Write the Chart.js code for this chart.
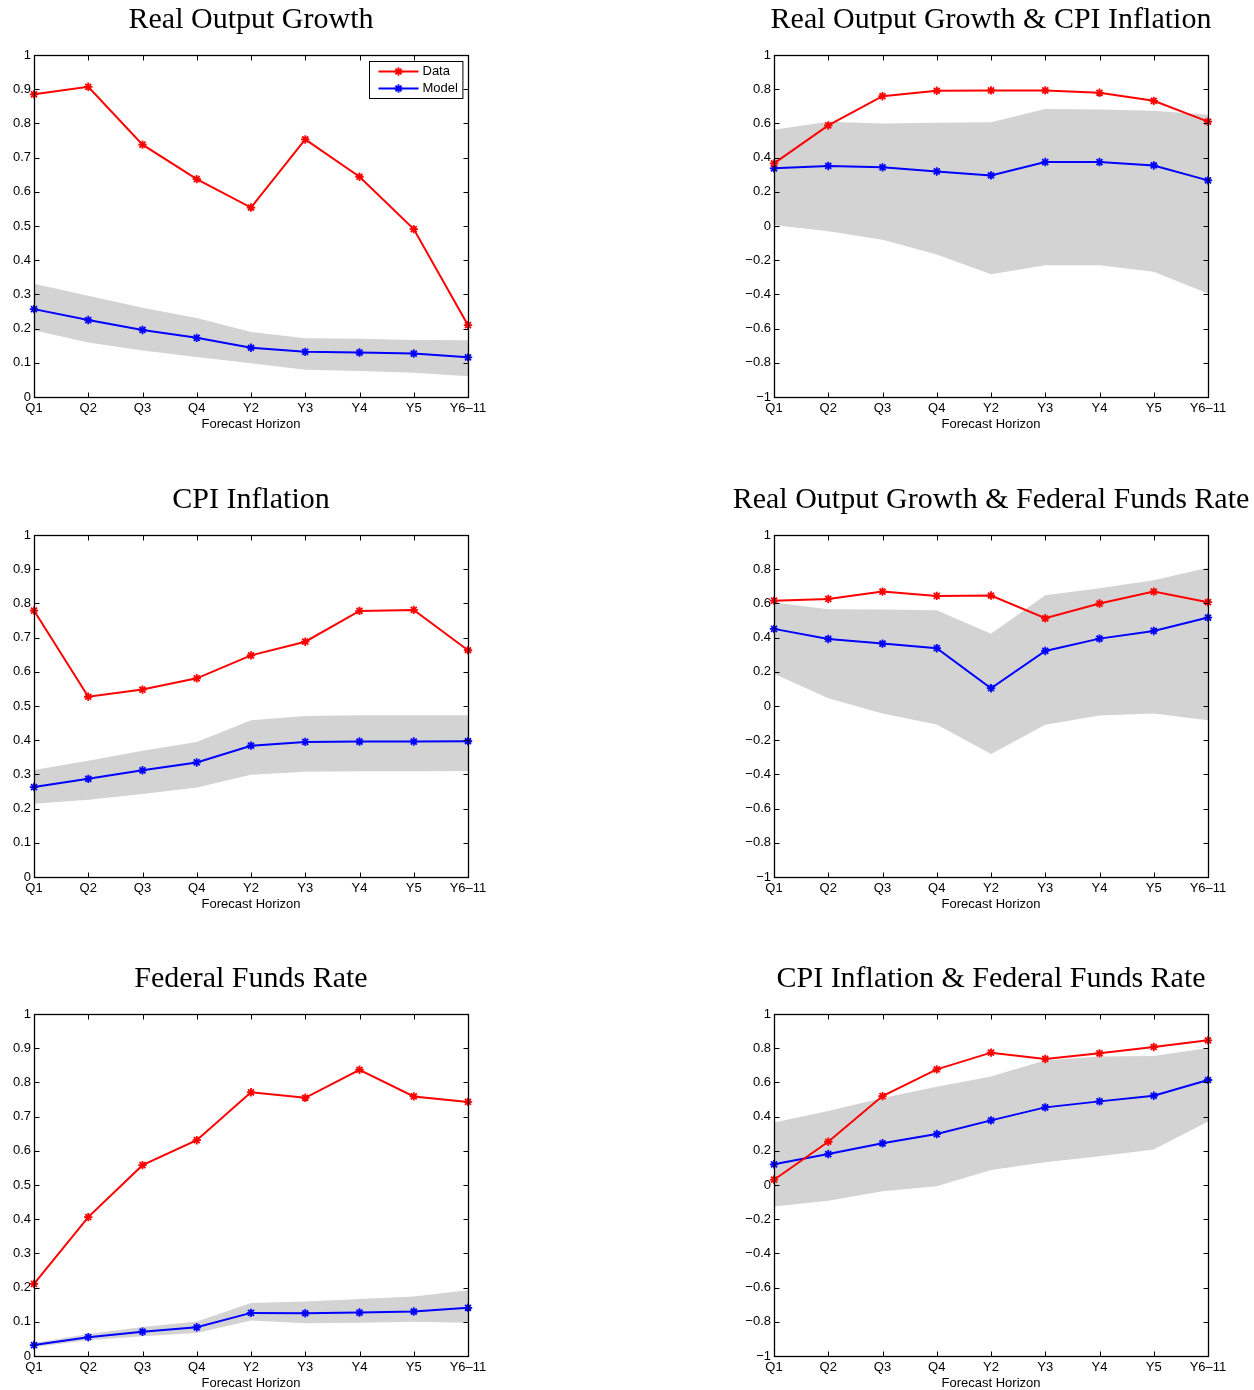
<!DOCTYPE html>
<html>
<head>
<meta charset="utf-8">
<script src="https://cdn.jsdelivr.net/npm/chart.js@4.4.1/dist/chart.umd.min.js"></script>
<style>
  html, body { margin: 0; padding: 0; background: #fff; }
  body { width: 1254px; height: 1390px; position: relative; overflow: hidden; }
  canvas { position: absolute; }
</style>
</head>
<body>
<canvas id="c1"></canvas>
<canvas id="c2"></canvas>
<canvas id="c3"></canvas>
<canvas id="c4"></canvas>
<canvas id="c5"></canvas>
<canvas id="c6"></canvas>
<script>
// forecast horizons on the x axis
const horizons = ['Q1', 'Q2', 'Q3', 'Q4', 'Y2', 'Y3', 'Y4', 'Y5', 'Y6\u201311'];

// Real Output Growth
const gdpData  = [0.885, 0.907, 0.738, 0.637, 0.554, 0.753, 0.644, 0.491, 0.210];
const gdpModel = [0.257, 0.225, 0.196, 0.173, 0.144, 0.132, 0.130, 0.127, 0.116];
const gdpHi    = [0.331, 0.296, 0.261, 0.231, 0.190, 0.172, 0.170, 0.167, 0.166];
const gdpLo    = [0.195, 0.159, 0.136, 0.117, 0.099, 0.080, 0.076, 0.071, 0.061];

// Real Output Growth & CPI Inflation
const gdpCpiData  = [0.366, 0.588, 0.759, 0.791, 0.793, 0.793, 0.779, 0.732, 0.610];
const gdpCpiModel = [0.337, 0.351, 0.343, 0.319, 0.296, 0.374, 0.374, 0.354, 0.267];
const gdpCpiHi    = [0.563, 0.610, 0.600, 0.604, 0.606, 0.684, 0.682, 0.674, 0.650];
const gdpCpiLo    = [0.006, -0.031, -0.080, -0.167, -0.282, -0.230, -0.230, -0.267, -0.395];

// CPI Inflation
const cpiData  = [0.779, 0.527, 0.548, 0.581, 0.648, 0.688, 0.778, 0.781, 0.663];
const cpiModel = [0.263, 0.287, 0.312, 0.335, 0.384, 0.395, 0.396, 0.396, 0.397];
const cpiHi    = [0.313, 0.340, 0.369, 0.395, 0.458, 0.471, 0.473, 0.473, 0.473];
const cpiLo    = [0.214, 0.226, 0.243, 0.262, 0.299, 0.308, 0.309, 0.309, 0.310];

// Real Output Growth & Federal Funds Rate
const gdpFfrData  = [0.616, 0.626, 0.669, 0.644, 0.646, 0.513, 0.599, 0.669, 0.607];
const gdpFfrModel = [0.451, 0.392, 0.365, 0.338, 0.104, 0.322, 0.394, 0.439, 0.517];
const gdpFfrHi    = [0.605, 0.566, 0.564, 0.560, 0.422, 0.648, 0.688, 0.735, 0.809];
const gdpFfrLo    = [0.188, 0.046, -0.044, -0.108, -0.281, -0.110, -0.055, -0.044, -0.083];

// Federal Funds Rate
const ffrData  = [0.211, 0.406, 0.558, 0.631, 0.771, 0.755, 0.837, 0.759, 0.743];
const ffrModel = [0.032, 0.055, 0.071, 0.084, 0.126, 0.125, 0.127, 0.130, 0.141];
const ffrHi    = [0.038, 0.064, 0.085, 0.101, 0.155, 0.159, 0.167, 0.174, 0.192];
const ffrLo    = [0.026, 0.046, 0.058, 0.067, 0.104, 0.096, 0.097, 0.100, 0.097];

// CPI Inflation & Federal Funds Rate
const cpiFfrData  = [0.031, 0.253, 0.520, 0.676, 0.774, 0.737, 0.770, 0.807, 0.846];
const cpiFfrModel = [0.121, 0.181, 0.244, 0.298, 0.378, 0.454, 0.489, 0.522, 0.614];
const cpiFfrHi    = [0.366, 0.433, 0.509, 0.575, 0.635, 0.729, 0.752, 0.754, 0.801];
const cpiFfrLo    = [-0.125, -0.092, -0.037, -0.008, 0.088, 0.133, 0.168, 0.207, 0.372];

const SANS = '"Liberation Sans", Arial, Helvetica, sans-serif';
const SERIF = '"Liberation Serif", "Times New Roman", serif';

Chart.defaults.font.family = SANS;
Chart.defaults.font.size = 13;
Chart.defaults.color = '#000';

// box round the plot with inward ticks on all four sides (matlab style)
const frameTicks = {
  id: 'frameTicks',
  afterDatasetsDraw(chart) {
    const { ctx, chartArea: a, scales: { x, y } } = chart;
    const len = 5;
    const L = Math.round(a.left) + 0.5, R = Math.round(a.right) + 0.5;
    const T = Math.round(a.top) + 0.5, B = Math.round(a.bottom) + 0.5;
    ctx.save();
    ctx.strokeStyle = '#000';
    ctx.lineWidth = 1;
    ctx.beginPath();
    x.ticks.forEach((t, i) => {
      const px = Math.round(x.getPixelForTick(i)) + 0.5;
      ctx.moveTo(px, B); ctx.lineTo(px, B - len);
      ctx.moveTo(px, T); ctx.lineTo(px, T + len);
    });
    y.ticks.forEach((t, i) => {
      const py = Math.round(y.getPixelForTick(i)) + 0.5;
      ctx.moveTo(L, py); ctx.lineTo(L + len, py);
      ctx.moveTo(R, py); ctx.lineTo(R - len, py);
    });
    ctx.stroke();
    ctx.lineWidth = 1.3;
    ctx.strokeRect(L, T, R - L, B - T);
    ctx.restore();
  }
};

// title centred over the plot box rather than the whole canvas
const plotTitle = {
  id: 'plotTitle',
  afterDraw(chart, args, opts) {
    const { ctx, chartArea: a } = chart;
    ctx.save();
    ctx.font = '30px ' + SERIF;
    ctx.fillStyle = '#000';
    ctx.textAlign = 'center';
    ctx.textBaseline = 'alphabetic';
    ctx.fillText(opts.text, (a.left + a.right) / 2, a.top - 27);
    ctx.restore();
  }
};

function drawAsterisk(ctx, cx, cy, r) {
  ctx.beginPath();
  for (let k = 0; k < 4; k++) {
    const ang = k * Math.PI / 4;
    const dx = Math.cos(ang) * r, dy = Math.sin(ang) * r;
    ctx.moveTo(cx - dx, cy - dy);
    ctx.lineTo(cx + dx, cy + dy);
  }
  ctx.stroke();
}

// legend box drawn inside the plot, top right
const innerLegend = {
  id: 'innerLegend',
  afterDraw(chart, args, opts) {
    if (!opts.show) return;
    const { ctx, chartArea: a } = chart;
    const items = chart.data.datasets.filter(d => d.inLegend);
    ctx.save();
    ctx.font = '13px ' + SANS;
    const textW = Math.max(...items.map(d => ctx.measureText(d.label).width));
    const padL = 9, lineW = 40, gap = 4, padR = 5, rowH = 17;
    const w = padL + lineW + gap + textW + padR;
    const h = items.length * rowH + 3;
    const x0 = Math.round(a.right - 6 - w) + 0.5;
    const y0 = Math.round(a.top + 6) + 0.5;
    ctx.fillStyle = '#fff';
    ctx.fillRect(x0, y0, w, h);
    ctx.strokeStyle = '#000';
    ctx.lineWidth = 1;
    ctx.strokeRect(x0, y0, w, h);
    items.forEach((d, i) => {
      const cy = y0 + 1.5 + rowH * (i + 0.5);
      ctx.strokeStyle = d.borderColor;
      ctx.lineWidth = 2;
      ctx.beginPath();
      ctx.moveTo(x0 + padL, cy);
      ctx.lineTo(x0 + padL + lineW, cy);
      ctx.stroke();
      ctx.lineWidth = 1.8;
      drawAsterisk(ctx, x0 + padL + lineW / 2, cy, 4.2);
      ctx.fillStyle = '#000';
      ctx.textBaseline = 'middle';
      ctx.textAlign = 'left';
      ctx.fillText(d.label, x0 + padL + lineW + gap, cy);
    });
    ctx.restore();
  }
};

function fmtTick(v) {
  const r = Math.round(v * 10) / 10;
  if (r === 0) return '0';
  if (Math.abs(r) === 1) return r < 0 ? '\u22121' : '1';
  return (r < 0 ? '\u2212' : '') + Math.abs(r).toFixed(1);
}

const panels = [
  { id: 'c1', left: 0,   top: 0,   col: 0, title: 'Real Output Growth', data: gdpData, model: gdpModel, hi: gdpHi, lo: gdpLo, min: 0, step: 0.1, legend: true },
  { id: 'c2', left: 730, top: 0,   col: 1, title: 'Real Output Growth & CPI Inflation', data: gdpCpiData, model: gdpCpiModel, hi: gdpCpiHi, lo: gdpCpiLo, min: -1, step: 0.2 },
  { id: 'c3', left: 0,   top: 480, col: 0, title: 'CPI Inflation', data: cpiData, model: cpiModel, hi: cpiHi, lo: cpiLo, min: 0, step: 0.1 },
  { id: 'c4', left: 730, top: 480, col: 1, title: 'Real Output Growth & Federal Funds Rate', data: gdpFfrData, model: gdpFfrModel, hi: gdpFfrHi, lo: gdpFfrLo, min: -1, step: 0.2 },
  { id: 'c5', left: 0,   top: 959, col: 0, title: 'Federal Funds Rate', data: ffrData, model: ffrModel, hi: ffrHi, lo: ffrLo, min: 0, step: 0.1 },
  { id: 'c6', left: 730, top: 959, col: 1, title: 'CPI Inflation & Federal Funds Rate', data: cpiFfrData, model: cpiFfrModel, hi: cpiFfrHi, lo: cpiFfrLo, min: -1, step: 0.2 }
];

panels.forEach(p => {
  const canvas = document.getElementById(p.id);
  const width = p.col === 0 ? 502 : 524;
  const side = p.col === 0 ? 34 : 44;
  canvas.width = width;
  canvas.height = 440;
  canvas.style.left = p.left + 'px';
  canvas.style.top = p.top + 'px';

  const lineSet = (label, values, color) => ({
    label,
    data: values,
    inLegend: true,
    borderColor: color,
    backgroundColor: color,
    borderWidth: 2,
    pointStyle: 'star',
    pointRadius: 4.2,
    pointBorderWidth: 1.8,
    pointBorderColor: color,
    tension: 0,
    fill: false,
    clip: false
  });

  new Chart(canvas.getContext('2d'), {
    type: 'line',
    data: {
      labels: horizons,
      datasets: [
        lineSet('Data', p.data, '#ff0000'),
        lineSet('Model', p.model, '#0000ff'),
        {
          label: 'upper',
          data: p.hi,
          borderWidth: 0,
          pointRadius: 0,
          backgroundColor: 'rgb(211,211,211)',
          fill: '+1',
          tension: 0
        },
        {
          label: 'lower',
          data: p.lo,
          borderWidth: 0,
          pointRadius: 0,
          fill: false,
          tension: 0
        }
      ]
    },
    options: {
      responsive: false,
      animation: false,
      events: [],
      layout: { padding: { left: 0, right: width - side - 434, top: 55, bottom: 0 } },
      plugins: {
        legend: { display: false },
        tooltip: { enabled: false },
        title: { display: false },
        plotTitle: { text: p.title },
        innerLegend: { show: !!p.legend }
      },
      scales: {
        x: {
          type: 'category',
          offset: false,
          grid: { display: false, drawTicks: false },
          border: { display: false },
          ticks: { padding: 4, maxRotation: 0, autoSkip: false, font: { size: 13 } },
          title: {
            display: true,
            text: 'Forecast Horizon',
            font: { size: 13 },
            padding: { top: 0, bottom: 8 }
          },
          afterFit(scale) { scale.height = 43; }
        },
        y: {
          min: p.min,
          max: 1,
          grid: { display: false, drawTicks: false },
          border: { display: false },
          ticks: { stepSize: p.step, padding: 3, callback: fmtTick, font: { size: 13 } },
          afterFit(scale) { scale.width = side; }
        }
      }
    },
    plugins: [frameTicks, plotTitle, innerLegend]
  });
});
</script>
</body>
</html>
